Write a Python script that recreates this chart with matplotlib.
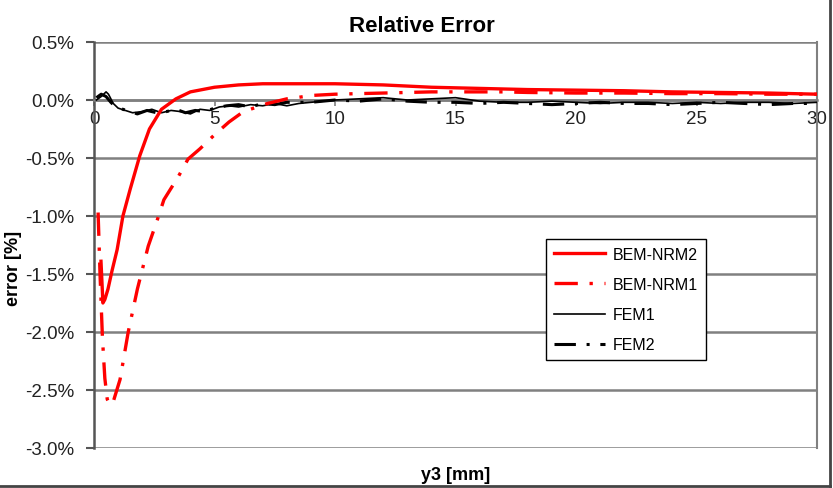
#!/usr/bin/env python3
"""Relative error of BEM-NRM and FEM solutions along y3."""
import matplotlib
matplotlib.use('Agg')
import matplotlib.pyplot as plt
from matplotlib.lines import Line2D

plt.rcParams['font.family'] = ['Liberation Sans', 'DejaVu Sans']

# y3 [mm] vs error [%]
nrm2_x = [0.29, 0.37, 0.45, 0.58, 0.75, 0.96, 1.2, 1.5, 1.9, 2.3, 2.8, 3.4, 4.0,
          5.0, 6.0, 7.0, 8.0, 9.0, 10.0, 11.0, 12.0, 13.0, 14.0, 16.0, 18.0, 20.0,
          22.0, 24.0, 26.0, 28.0, 30.0]
nrm2_y = [-1.39, -1.75, -1.72, -1.63, -1.47, -1.29, -1.0, -0.77, -0.48, -0.25, -0.08,
          0.01, 0.07, 0.11, 0.13, 0.14, 0.14, 0.14, 0.14, 0.135, 0.13, 0.12, 0.11,
          0.10, 0.09, 0.085, 0.08, 0.07, 0.065, 0.06, 0.05]

nrm1_x = [0.17, 0.25, 0.35, 0.45, 0.55, 0.67, 0.8, 1.08, 1.42, 1.8, 2.25, 2.6, 2.9,
          3.5, 3.9, 4.4, 5.0, 5.6, 6.2, 7.2, 8.0, 9.1, 10.0, 11.0, 12.0, 13.0, 14.0,
          15.0, 16.0, 17.0, 18.0, 20.0, 22.0, 24.0, 26.0, 28.0, 30.0]
nrm1_y = [-0.97, -1.5, -2.05, -2.4, -2.58, -2.63, -2.6, -2.41, -2.0, -1.63, -1.26,
          -1.05, -0.86, -0.66, -0.51, -0.42, -0.3, -0.19, -0.1, -0.03, 0.01, 0.04,
          0.05, 0.055, 0.06, 0.065, 0.07, 0.07, 0.07, 0.07, 0.065, 0.06, 0.06, 0.055,
          0.055, 0.05, 0.05]

fem1_x = [0.1, 0.3, 0.5, 0.6, 0.8, 1.0, 1.3, 1.6, 2.0, 2.4, 2.8, 3.2, 3.6, 4.0, 4.4,
          4.8, 5.2, 5.6, 6.0, 6.5, 7.0, 7.5, 8.0, 8.5, 9.0, 9.5, 10.0, 11.0, 12.0,
          13.0, 14.0, 15.0, 16.0, 17.0, 18.0, 19.0, 20.0, 21.0, 22.0, 23.0, 24.0,
          25.0, 26.0, 27.0, 28.0, 29.0, 30.0]
fem1_y = [0.0, 0.03, 0.07, 0.05, -0.03, -0.07, -0.09, -0.11, -0.1, -0.08, -0.11,
          -0.09, -0.1, -0.12, -0.08, -0.09, -0.06, -0.05, -0.06, -0.04, -0.05, -0.03,
          -0.05, -0.03, -0.02, -0.01, 0.0, 0.01, 0.02, 0.0, 0.01, 0.02, -0.01, -0.02,
          -0.02, -0.01, -0.02, -0.03, -0.02, -0.02, -0.03, -0.02, -0.03, -0.02,
          -0.02, -0.03, -0.02]

fem2_x = [0.1, 0.3, 0.5, 0.7, 0.9, 1.2, 1.5, 1.8, 2.2, 2.6, 3.0, 3.4, 3.8, 4.2, 4.6,
          5.0, 5.5, 6.0, 6.5, 7.0, 7.5, 8.0, 9.0, 10.0, 11.0, 12.0, 13.0, 14.0, 15.0,
          16.0, 17.0, 18.0, 19.0, 20.0, 21.0, 22.0, 23.0, 24.0, 25.0, 26.0, 27.0,
          28.0, 29.0, 30.0]
fem2_y = [0.02, 0.05, 0.03, -0.02, -0.06, -0.08, -0.1, -0.12, -0.09, -0.11, -0.1,
          -0.08, -0.11, -0.09, -0.1, -0.07, -0.05, -0.04, -0.06, -0.03, -0.04, -0.02,
          -0.02, 0.0, -0.01, 0.01, -0.01, -0.02, -0.02, -0.03, -0.02, -0.03, -0.04,
          -0.03, -0.02, -0.03, -0.03, -0.04, -0.03, -0.02, -0.03, -0.04, -0.03, -0.03]

y_ticks = [0.5, 0.0, -0.5, -1.0, -1.5, -2.0, -2.5, -3.0]
x_ticks = [0, 5, 10, 15, 20, 25, 30]

GRID = '#808080'

fig = plt.figure(figsize=(8.33, 4.89), dpi=100)
ax = fig.add_axes([94 / 833, 1 - 449 / 489, (817 - 94) / 833, (449 - 43) / 489])

ax.plot(nrm2_x, nrm2_y, '-', color='#ff0000', lw=2.4, label='BEM-NRM2', zorder=5)
ax.plot(nrm1_x, nrm1_y, color='#ff0000', lw=2.4, ls=(0, (7, 3.5, 1, 3.5)),
        label='BEM-NRM1', zorder=4)
ax.plot(fem1_x, fem1_y, '-', color='black', lw=1.2, label='FEM1', zorder=3)
ax.plot(fem2_x, fem2_y, color='black', lw=2.2, ls=(0, (7, 3.5, 1, 3.5)),
        label='FEM2', zorder=3)

ax.set_xlim(0, 30)
ax.set_ylim(-3.0, 0.5)
ax.set_yticks(y_ticks)
ax.set_yticklabels([f'{v:.1f}%' for v in y_ticks])
ax.set_xticks(x_ticks)
ax.set_xticklabels([str(v) for v in x_ticks])

for v in y_ticks:
    ax.axhline(v, color=GRID, lw=1.8, zorder=1)

ax.spines['bottom'].set_position(('data', 0))
ax.spines['bottom'].set_color(GRID)
ax.spines['bottom'].set_linewidth(1.8)
ax.spines['top'].set_visible(False)
ax.spines['right'].set_color(GRID)
ax.spines['right'].set_linewidth(1.5)
ax.spines['left'].set_color('#555555')
ax.spines['left'].set_linewidth(1.8)

ax.tick_params(axis='y', direction='out', length=6, width=1.5, color='#555555',
               labelsize=13.5, labelcolor='#222222', pad=8)
ax.tick_params(axis='x', direction='out', length=4, width=1.2, color=GRID,
               labelsize=13.5, labelcolor='#222222', pad=3)
for lbl in ax.get_xticklabels():
    lbl.set_clip_on(False)

ax.set_xlabel('y3 [mm]', fontsize=13, fontweight='bold')
ax.xaxis.set_label_coords(0.5, -0.045)
fig.text(13 / 833, 1 - 268 / 489, 'error [%]', rotation=90, ha='center',
         va='center', fontsize=13, fontweight='bold')

fig.text(422 / 833, 1 - 27 / 489, 'Relative Error', ha='center', va='center',
         fontsize=16, fontweight='bold')

leg = ax.legend(loc='upper left', bbox_to_anchor=(0.625, 0.515), fontsize=11.5,
                frameon=True, fancybox=False, edgecolor='black', framealpha=1,
                handlelength=3.2, labelspacing=0.95, borderpad=0.5,
                handletextpad=0.5, borderaxespad=0)
leg.get_frame().set_linewidth(1.0)

# outer chart border (right and bottom)
fig.add_artist(Line2D([830 / 833, 830 / 833], [1 - 487 / 489, 1], color='#444444', lw=2))
fig.add_artist(Line2D([0, 830 / 833], [1 - 487 / 489, 1 - 487 / 489], color='#444444', lw=2))

fig.savefig('out.png', dpi=100)
